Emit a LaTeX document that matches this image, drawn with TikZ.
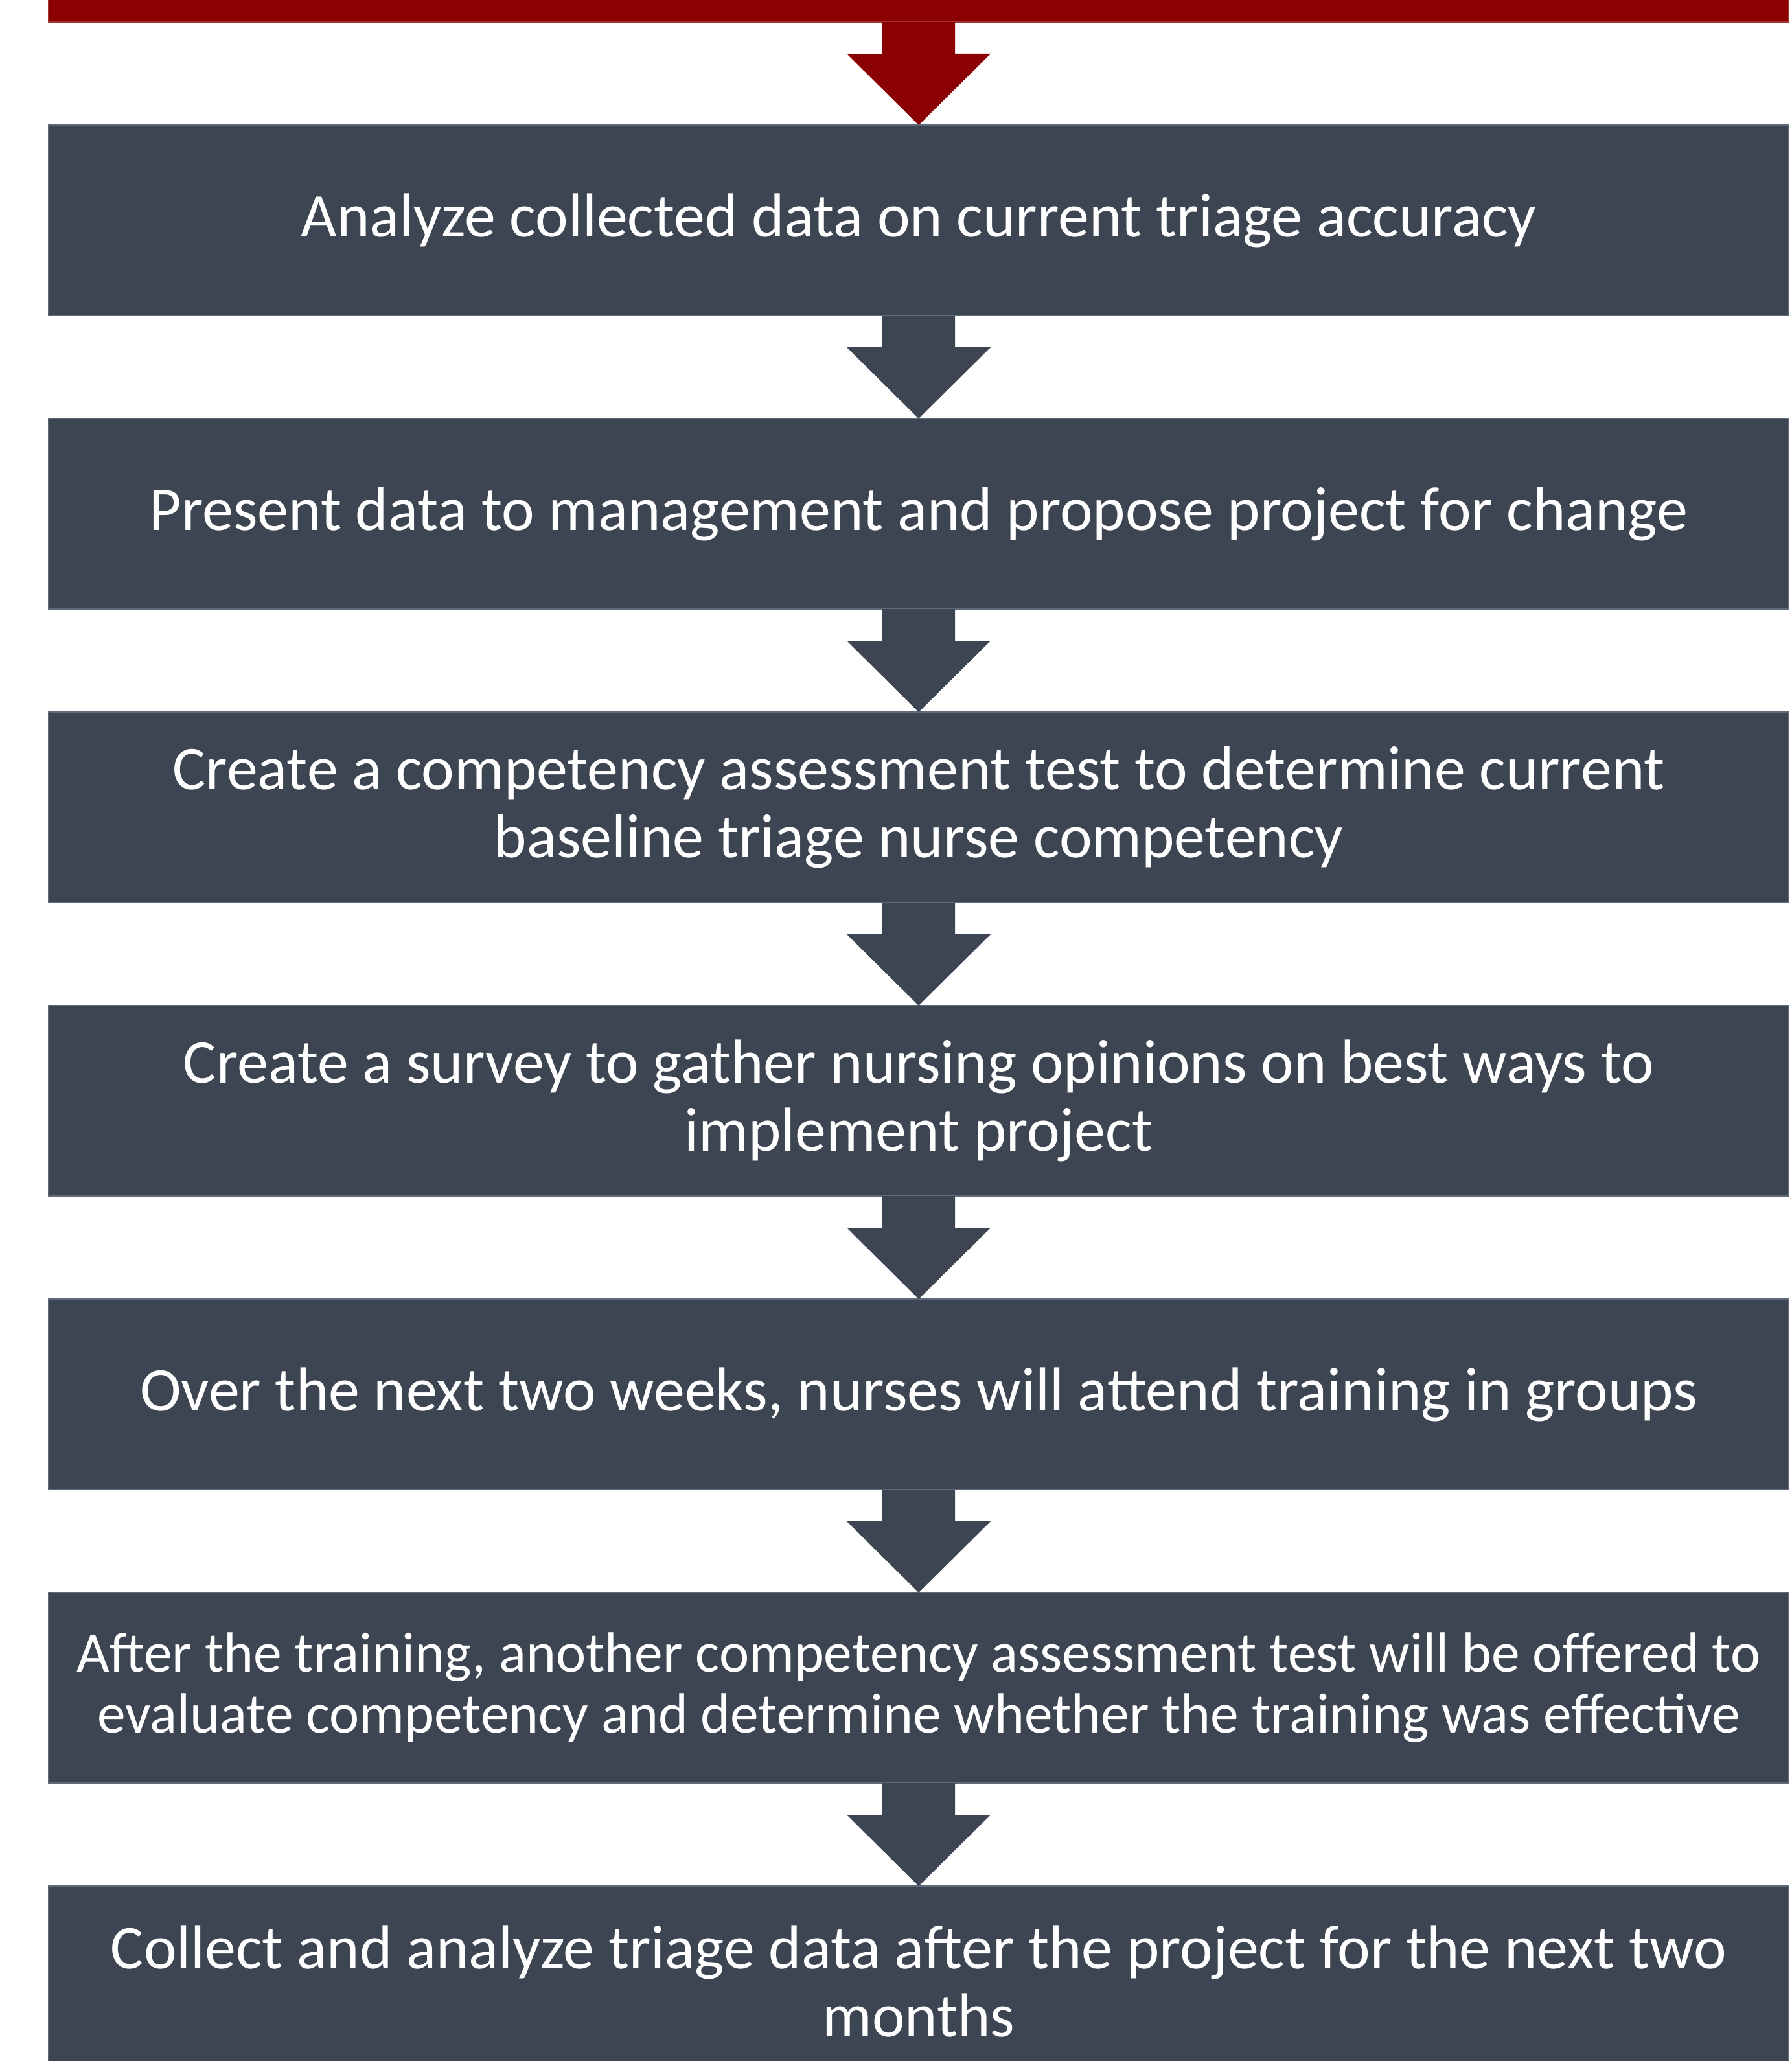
\documentclass[tikz,border=0pt]{standalone}
\usepackage{fontspec}
\setmainfont{Carlito}
\usetikzlibrary{positioning}
\definecolor{boxgray}{HTML}{3C4551}
\definecolor{boxedge}{HTML}{5E6A77}
\definecolor{topred}{HTML}{8B0000}
\tikzstyle{stepbox}=[
draw=boxedge,
line width=0.5pt,
fill=boxgray,
text=white,
align=center,
minimum width=26.86cm,
minimum height=2.94cm,
inner sep=0pt,
outer sep=0pt,
font=\fontsize{27.3pt}{29.8pt}\selectfont
]
\tikzstyle{smalltext} = [font=\fontsize{24.9pt}{26.7pt}\selectfont]
\tikzstyle{flowarrow} = [fill=boxgray]

\begin{document}
\begin{tikzpicture}[node distance=1.59cm]

			\useasboundingbox (0,0) rectangle (27.65,-31.81);
			\clip (0,0) rectangle (27.65,-31.81);

			% red bar and its arrow at the top
			\node[fill=topred,draw=topred!80!white,line width=0.5pt,minimum width=26.86cm,minimum height=0.5cm,inner sep=0pt,outer sep=0pt] (bar) at (14.18,-0.09) {};

			\node[stepbox]	(s1)	at (14.18,-3.40) {Analyze collected data on current triage accuracy};
			\node[stepbox]	(s2) [below=of s1] {Present data to management and propose project for change};
			\node[stepbox]	(s3) [below=of s2] {Create a competency assessment test to determine current\\baseline triage nurse competency};
			\node[stepbox]	(s4) [below=of s3] {Create a survey to gather nursing opinions on best ways to\\implement project};
			\node[stepbox]	(s5) [below=of s4] {Over the next two weeks, nurses will attend training in groups};
			\node[stepbox,smalltext]	(s6) [below=of s5] {After the training, another competency assessment test will be offered to\\evaluate competency and determine whether the training was effective};
			\node[stepbox]	(s7) [below=of s6] {Collect and analyze triage data after the project for the next two\\months};

			\fill[topred] (bar.south) ++(-0.56,0) -- ++(0,-0.49) -- ++(-0.55,0) -- (s1.north) -- ++(1.11,1.10) -- ++(-0.55,0) -- ++(0,0.49) -- cycle;

			\foreach \a/\b in {s1/s2,s2/s3,s3/s4,s4/s5,s5/s6,s6/s7}
			\path[flowarrow] (\a.south) ++(-0.56,0) -- ++(0,-0.49) -- ++(-0.55,0) -- (\b.north) -- ++(1.11,1.10) -- ++(-0.55,0) -- ++(0,0.49) -- cycle;

\end{tikzpicture}
\end{document}
